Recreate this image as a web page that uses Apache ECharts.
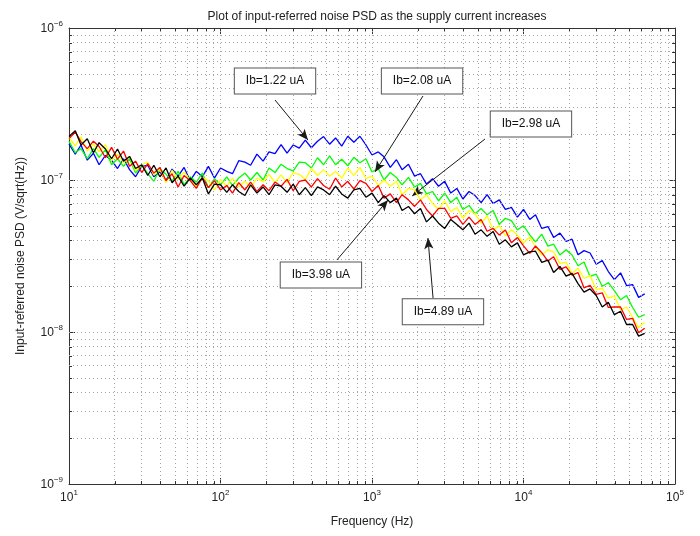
<!DOCTYPE html>
<html>
<head>
<meta charset="utf-8">
<script src="https://cdn.jsdelivr.net/npm/echarts@6/dist/echarts.min.js"></script>
<style>
  html, body { margin: 0; padding: 0; background: #fff; }
  #chart { width: 700px; height: 536px; }
</style>
</head>
<body>
<div id="chart"></div>
<script>
// Frequency bins (Hz)
const FREQ_HZ = [
  10, 11, 12, 13.2, 14.5, 15.8, 17.4, 19.1, 20.9, 22.9, 25.1, 27.5, 30.2, 33.1, 36.3, 39.8, 43.7, 47.9, 52.5, 57.5, 63.1, 69.2, 75.9, 83.2, 91.2,
  100, 110, 120, 132, 145, 158, 174, 191, 209, 229, 251, 275, 302, 331, 363, 398, 437, 479, 525, 575, 631, 692, 759, 832, 912,
  1000, 1100, 1200, 1320, 1450, 1580, 1740, 1910, 2090, 2290, 2510, 2750, 3020, 3310, 3630, 3980, 4370, 4790, 5250, 5750, 6310, 6920, 7590, 8320, 9120,
  10000, 11000, 12000, 13200, 14500, 15800, 17400, 19100, 20900, 22900, 25100, 27500, 30200, 33100, 36300, 39800, 43700, 47900, 52500, 57500, 63100
];

// Input-referred noise density in nV/sqrt(Hz), one array per bias current
const PSD_IB_1_22 = [
  173, 148, 170, 135, 150, 126, 145, 135, 119, 138, 117, 105, 123, 125, 105, 113, 99, 118, 106, 121, 99, 114, 105, 123, 103,
  120, 114, 110, 134, 131, 125, 148, 133, 153, 149, 171, 150, 170, 162, 183, 163, 180, 193, 172, 189, 167, 194, 177, 194, 170,
  146, 153, 142, 121, 136, 117, 127, 106, 110, 94, 102, 91, 98, 82, 88, 75, 84, 79, 71, 80, 70, 74, 64, 66, 57,
  64, 55, 59, 48, 49.4, 41.9, 44.7, 39.4, 40.8, 32.2, 34.3, 33.1, 27.9, 29.5, 25, 22.1, 24.5, 20.2, 20.5, 16.9, 17.8
];
const PSD_IB_2_08 = [
  180, 151, 161, 138, 161, 141, 158, 126, 138, 123, 138, 111, 126, 110, 98, 118, 109, 98, 114, 93, 105, 97, 111, 89, 102,
  93, 105, 92, 103, 111, 100, 112, 100, 120, 112, 127, 119, 115, 131, 130, 120, 140, 126, 144, 126, 137, 124, 141, 130, 138,
  113, 119, 100, 112, 104, 93, 104, 90, 95, 81, 84, 73, 82, 71, 77, 64, 68, 60, 65, 59, 63, 51, 56, 54, 47,
  50, 43.5, 39.2, 44, 36.7, 37.8, 32.1, 34.8, 32.1, 27.3, 28.9, 23.2, 24, 20, 21.1, 18.7, 16.3, 17.4, 14.5, 12.5, 13
];
const PSD_IB_2_98 = [
  190, 168, 192, 155, 172, 154, 171, 134, 148, 130, 143, 115, 126, 131, 108, 118, 96, 116, 101, 113, 99, 91, 104, 99, 86,
  101, 91, 103, 90, 98, 89, 103, 97, 109, 96, 108, 96, 112, 109, 101, 119, 107, 117, 106, 114, 103, 120, 107, 121, 102,
  106, 92, 100, 91, 98, 80, 88, 86, 74, 80, 70, 64, 73, 62, 66, 56, 63, 60, 52, 58, 47, 50, 43, 47, 43.4,
  38.5, 42.2, 36.1, 32.1, 34.7, 33.7, 28.3, 28.7, 24.3, 26.2, 22.5, 23.5, 19, 19.4, 16.7, 17.3, 14, 14.6, 12.5, 10.7, 11.6
];
const PSD_IB_3_98 = [
  187, 207, 179, 161, 180, 166, 140, 164, 137, 155, 123, 133, 112, 128, 111, 121, 99, 110, 90, 107, 99, 88, 104, 89, 99,
  86, 92, 82, 96, 86, 97, 84, 93, 85, 97, 91, 101, 85, 98, 100, 90, 102, 92, 87, 103, 90, 98, 87, 99, 95,
  84, 92, 76, 81, 71, 80, 74, 67, 74, 64, 58, 65, 65, 56, 58, 51, 57, 51, 55, 46, 48, 43.4, 46.9, 38.7, 41.8,
  36.9, 32.9, 36.8, 33.3, 29.3, 31.3, 25.8, 26.8, 23.7, 24.6, 19.5, 20.3, 17.7, 18.1, 14.5, 14.6, 14.6, 12.1, 12.3, 9.9, 10.6
];
const PSD_IB_4_89 = [
  193, 211, 170, 187, 151, 176, 160, 138, 160, 133, 143, 119, 126, 107, 125, 105, 120, 96, 106, 91, 103, 93, 103, 81, 94,
  93, 83, 93, 84, 79, 93, 82, 90, 80, 93, 91, 83, 94, 80, 89, 79, 90, 86, 80, 91, 81, 76, 86, 88, 77,
  82, 71, 79, 71, 76, 63, 67, 60, 65, 53, 58, 52, 48, 55, 51, 47, 52, 44, 47, 42.6, 45.8, 37.8, 40.4, 36.3, 38.6,
  32.2, 33.7, 34, 28.7, 29.7, 24.6, 27, 23.3, 24.3, 20.8, 18.3, 19.2, 17.4, 14.6, 15.7, 13, 13.7, 11.2, 11.2, 9.4, 9.8
];

const SERIES_NAMES = ['Ib=1.22 uA', 'Ib=2.08 uA', 'Ib=2.98 uA', 'Ib=3.98 uA', 'Ib=4.89 uA'];
const SERIES_VALUES = [PSD_IB_1_22, PSD_IB_2_08, PSD_IB_2_98, PSD_IB_3_98, PSD_IB_4_89];
const SERIES_COLORS = ['#0000ff', '#00ff00', '#ffff00', '#ff0000', '#000000'];

// Tick values (decades)
const X_TICKS = [10, 100, 1000, 10000, 100000];
const Y_TICKS = [1e-9, 1e-8, 1e-7, 1e-6];

// Callout boxes: box centre, arrow start, arrow tip in (Hz, V/sqrt(Hz))
const CALLOUTS = [
  { text: 'Ib=1.22 uA', box: [229, 4.48e-7], from: [229, 3.36e-7], tip: [378, 1.83e-7] },
  { text: 'Ib=2.08 uA', box: [2140, 4.48e-7], from: [2170, 3.57e-7], tip: [1047, 1.13e-7] },
  { text: 'Ib=2.98 uA', box: [11200, 2.34e-7], from: [5570, 1.86e-7], tip: [1840, 7.85e-8] },
  { text: 'Ib=3.98 uA', box: [460, 2.37e-8], from: [587, 2.98e-8], tip: [1275, 7.38e-8] },
  { text: 'Ib=4.89 uA', box: [2940, 1.36e-8], from: [2530, 1.67e-8], tip: [2340, 4.15e-8] }
];

const FONT = '"Liberation Sans", Arial, Helvetica, sans-serif';
const GRID_STYLE = { color: '#a4a4a4', width: 1, type: [1, 3] };

// Minor grid / tick positions at 2..9 within each decade
const minorX = [];
for (let d = 10; d < 100000; d *= 10) for (let m = 2; m <= 9; m++) minorX.push(d * m);
const minorY = [];
for (let d = 1e-9; d < 0.99e-6; d *= 10) for (let m = 2; m <= 9; m++) minorY.push(d * m);

const xMin = X_TICKS[0], xMax = X_TICKS[X_TICKS.length - 1];
const yMin = Y_TICKS[0], yMax = Y_TICKS[Y_TICKS.length - 1];

const powLabel = (v) => {
  const e = Math.round(Math.log10(v));
  return '{b|10}{s|' + (e < 0 ? '\u2212' + (-e) : e) + '}';
};
const labelRich = {
  b: { fontSize: 12, fontFamily: FONT, color: '#222', verticalAlign: 'bottom', lineHeight: 14 },
  s: { fontSize: 8, fontFamily: FONT, color: '#222', verticalAlign: 'bottom', lineHeight: 10, padding: [0, 0, 7, 0] }
};

const chart = echarts.init(document.getElementById('chart'), null, { renderer: 'canvas' });

const axisLineStyle = { color: '#333', width: 1 };
const baseX = {
  type: 'log', logBase: 10, min: xMin, max: xMax, interval: 1,
  axisLine: { show: true, lineStyle: axisLineStyle },
  axisTick: { show: true, inside: true, length: 6, lineStyle: axisLineStyle },
  splitLine: { show: false }
};
const baseY = {
  type: 'log', logBase: 10, min: yMin, max: yMax, interval: 1,
  axisLine: { show: true, lineStyle: axisLineStyle },
  axisTick: { show: true, inside: true, length: 6, lineStyle: axisLineStyle },
  splitLine: { show: false }
};

const series = SERIES_VALUES.map((vals, i) => ({
  name: SERIES_NAMES[i],
  type: 'line',
  xAxisIndex: 0, yAxisIndex: 0,
  data: FREQ_HZ.map((f, k) => [f, vals[k] * 1e-9]),
  showSymbol: false,
  symbol: 'none',
  lineStyle: { color: SERIES_COLORS[i], width: 1.3 },
  z: 3 + i,
  silent: true
}));

// Dotted grid: decade lines plus minor lines, as full-span segments
const gridSegments = [];
X_TICKS.slice(1, -1).concat(minorX).forEach(v => gridSegments.push([{ coord: [v, yMin] }, { coord: [v, yMax] }]));
Y_TICKS.slice(1, -1).concat(minorY).forEach(v => gridSegments.push([{ coord: [xMin, v] }, { coord: [xMax, v] }]));

series.unshift({
  type: 'line',
  data: [],
  z: 1,
  silent: true,
  markLine: {
    silent: true,
    symbol: 'none',
    label: { show: false },
    animation: false,
    lineStyle: GRID_STYLE,
    data: gridSegments
  }
});

// Minor tick marks on all four sides of the box
series.push({
  type: 'custom',
  silent: true,
  z: 8,
  data: minorX.map(v => [v, yMin, 0]).concat(minorY.map(v => [xMin, v, 1])),
  renderItem: (params, api) => {
    const cs = params.coordSys;
    const p = api.coord([api.value(0), api.value(1)]);
    const style = { stroke: '#333', lineWidth: 1 };
    const L = 3;
    if (api.value(2) === 0) {
      const x = Math.round(p[0]) + 0.5;
      return { type: 'group', children: [
        { type: 'line', shape: { x1: x, y1: cs.y + cs.height, x2: x, y2: cs.y + cs.height - L }, style },
        { type: 'line', shape: { x1: x, y1: cs.y, x2: x, y2: cs.y + L }, style }
      ] };
    }
    const y = Math.round(p[1]) + 0.5;
    return { type: 'group', children: [
      { type: 'line', shape: { x1: cs.x, y1: y, x2: cs.x + L, y2: y }, style },
      { type: 'line', shape: { x1: cs.x + cs.width, y1: y, x2: cs.x + cs.width - L, y2: y }, style }
    ] };
  }
});

// Callout arrows and boxes
series.push({
  type: 'line',
  data: [],
  z: 20,
  silent: true,
  markLine: {
    silent: true,
    animation: false,
    symbol: ['none', 'arrow'],
    symbolSize: [7, 11],
    label: { show: false },
    lineStyle: { color: '#1a1a1a', width: 1, type: 'solid' },
    data: CALLOUTS.map(c => [{ coord: c.from }, { coord: c.tip }])
  },
  markPoint: {
    silent: true,
    animation: false,
    symbol: 'rect',
    symbolSize: 0,
    label: {
      show: true,
      position: 'inside',
      formatter: (p) => p.name,
      fontFamily: FONT,
      fontSize: 12,
      color: '#111',
      backgroundColor: '#fff',
      borderColor: '#555',
      borderWidth: 1,
      padding: [7, 11, 6, 11]
    },
    data: CALLOUTS.map(c => ({ name: c.text, coord: c.box }))
  }
});

chart.setOption({
  animation: false,
  backgroundColor: '#fff',
  title: {
    text: 'Plot of input-referred noise PSD as the supply current increases',
    left: 372, top: 6, textAlign: 'center',
    textStyle: { fontFamily: FONT, fontSize: 12, fontWeight: 'normal', color: '#222' }
  },
  grid: { left: 69, right: 25, top: 28, bottom: 52, containLabel: false },
  xAxis: [
    Object.assign({}, baseX, {
      position: 'bottom',
      name: 'Frequency (Hz)', nameLocation: 'middle', nameGap: 32,
      nameTextStyle: { fontFamily: FONT, fontSize: 12, color: '#222' },
      axisLabel: { formatter: powLabel, rich: labelRich, margin: 6 }
    }),
    Object.assign({}, baseX, { position: 'top', axisLabel: { show: false } })
  ],
  yAxis: [
    Object.assign({}, baseY, {
      position: 'left',
      name: 'Input-referred noise PSD (V/sqrt(Hz))', nameLocation: 'middle', nameGap: 42,
      nameTextStyle: { fontFamily: FONT, fontSize: 12, color: '#222' },
      axisLabel: { formatter: powLabel, rich: labelRich, margin: 6 }
    }),
    Object.assign({}, baseY, { position: 'right', axisLabel: { show: false } })
  ],
  series: series
});
</script>
</body>
</html>
